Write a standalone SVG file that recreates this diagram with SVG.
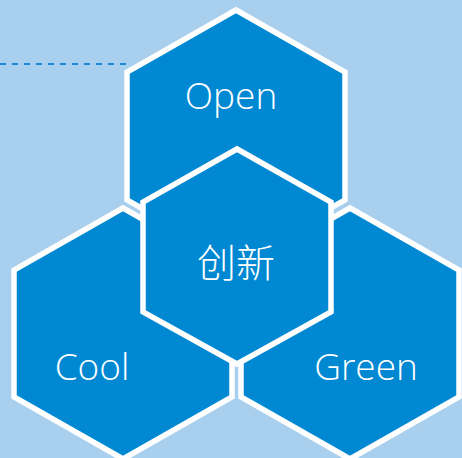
<svg xmlns="http://www.w3.org/2000/svg" width="462" height="458" viewBox="0 0 462 458">
<style>
.hex{fill:#0088D2;stroke:#FFFFFF;stroke-width:5.5;stroke-linejoin:miter}
.lbl{font-family:"Open Sans","Noto Sans CJK SC",sans-serif;font-size:37px;fill:#FFFFFF;text-anchor:middle;font-weight:300}
.cjk{font-family:"Noto Sans CJK SC",sans-serif;font-size:39px;font-weight:300}
</style>
<rect width="462" height="458" fill="#A9CFEE"/>
<g id="connectors">
<line x1="0" y1="64" x2="132" y2="64" stroke="#1A8AD4" stroke-width="2" stroke-dasharray="6,6"/>
</g>
<g id="open">
<polygon class="hex" points="236,10 345,72 345,200 236,262 127,200 127,72"/>
<text class="lbl" x="231" y="109">Open</text>
</g>
<g id="cool">
<polygon class="hex" points="123,208 232,270 232,397 123,459 14,397 14,270"/>
<text class="lbl" x="92" y="380">Cool</text>
</g>
<g id="green">
<polygon class="hex" points="350,208 459,270 459,397 350,459 241,397 241,270"/>
<text class="lbl" x="366" y="380">Green</text>
</g>
<g id="center">
<polygon class="hex" points="237,149 331,202 331,312 237,364 143,312 143,202"/>
<text class="lbl cjk" x="236" y="277">创新</text>
</g>
</svg>
